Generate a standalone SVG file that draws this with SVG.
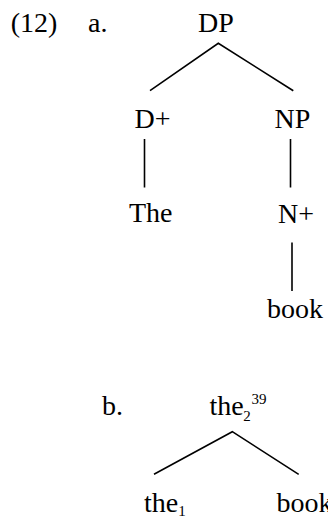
<svg xmlns="http://www.w3.org/2000/svg" width="328" height="518" viewBox="0 0 328 518">
<style>
text{font-family:"Liberation Serif","Times New Roman",serif;font-size:28px;fill:#000}
.s{font-size:15px}
.e{stroke:#000;stroke-width:1.6;fill:none;stroke-linecap:butt}
</style>
<rect width="328" height="518" fill="#fff"/>
<g id="labels">
<text x="10.7" y="32">(12)</text>
<text x="88" y="32">a.</text>
<text x="102" y="415">b.</text>
</g>
<g id="connectors">
<path class="e" d="M150,90.7 L218.3,43.3 L293.3,90.7"/>
<line class="e" x1="144.5" y1="139" x2="144.5" y2="187.5"/>
<line class="e" x1="290.5" y1="139" x2="290.5" y2="187.5"/>
<line class="e" x1="292" y1="242.5" x2="292" y2="291"/>
<path class="e" d="M154,474.3 L232.3,431.7 L298.7,474.3"/>
</g>
<g id="node-DP"><text x="216" y="32" text-anchor="middle">DP</text></g>
<g id="node-Dplus"><text x="134.5" y="127.5">D+</text></g>
<g id="node-NP"><text x="274.5" y="127.5">NP</text></g>
<g id="node-The"><text x="129" y="222">The</text></g>
<g id="node-Nplus"><text x="278" y="222.5">N+</text></g>
<g id="node-book-a"><text x="267" y="318">book</text></g>
<g id="node-the2"><text x="209.5" y="415">the</text><text class="s" x="243.3" y="420.5">2</text><text class="s" x="251.5" y="404">39</text></g>
<g id="node-the1"><text x="144" y="511.5">the</text><text class="s" x="178.3" y="515.5">1</text></g>
<g id="node-book-b"><text x="276.5" y="511.5">book</text></g>
</svg>
